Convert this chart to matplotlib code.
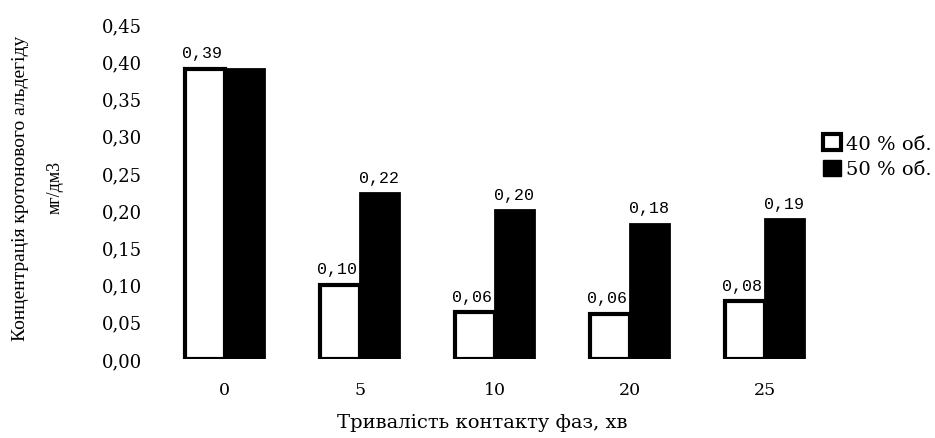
import matplotlib.pyplot as plt
import numpy as np
from matplotlib.patches import Patch

plt.rcParams["font.family"] = ["DejaVu Serif"]

categories = ["0", "5", "10", "20", "25"]
vol40 = [0.39, 0.10, 0.063, 0.061, 0.078]
vol50 = [0.39, 0.223, 0.200, 0.182, 0.188]
series_names = ["40 % об.", "50 % об."]
yticks = [0.00, 0.05, 0.10, 0.15, 0.20, 0.25, 0.30, 0.35, 0.40, 0.45]

fig = plt.figure(figsize=(9.35, 4.39), dpi=100)
ax = fig.add_axes([0.168, 0.18, 0.722, 0.763])

x = np.arange(len(categories))
w = 0.29
ax.bar(x - w / 2, vol40, w, color="white", edgecolor="black", linewidth=3)
ax.bar(x + w / 2, vol50, w, color="black", edgecolor="black", linewidth=2)

def fmt(v):
    return f"{v:.2f}".replace(".", ",")

for xi, v in zip(x, vol40):
    ax.annotate(fmt(v), (xi - w / 2, v), xytext=(-2, 6), textcoords="offset points",
                ha="center", va="bottom", fontsize=12, family="Liberation Mono")
for i, (xi, v) in enumerate(zip(x, vol50)):
    if i == 0:
        continue  # overlaps the white bar label in the original
    ax.annotate(fmt(v), (xi + w / 2, v), xytext=(0, 6), textcoords="offset points",
                ha="center", va="bottom", fontsize=12, family="Liberation Mono")

ax.set_xlim(-0.5, len(categories) - 0.5)
ax.set_ylim(0, 0.45)
ax.set_xticks(x)
ax.set_xticklabels(categories, fontsize=12.5)
ax.set_yticks(yticks)
ax.set_yticklabels([fmt(t) for t in yticks], fontsize=13)
ax.tick_params(length=0)
ax.tick_params(axis="y", pad=11)
ax.tick_params(axis="x", pad=16)
for s in ax.spines.values():
    s.set_visible(False)
ax.axhline(0, color="#bbbbbb", lw=0.8, ls=":", zorder=0)

fig.text(0.516, 0.036, "Тривалість контакту фаз, хв", ha="center", va="center", fontsize=14)
fig.text(0.022, 0.57, "Концентрація кротонового альдегіду", rotation=90,
         ha="center", va="center", fontsize=14, family="Liberation Serif")
fig.text(0.059, 0.572, "мг/дм3", rotation=90, ha="center", va="center", fontsize=13,
         family="Liberation Serif")

handles = [Patch(facecolor="white", edgecolor="black", linewidth=3),
           Patch(facecolor="black", edgecolor="black")]
fig.legend(handles, series_names, loc="upper left", bbox_to_anchor=(0.872, 0.71),
           frameon=False, fontsize=14, handlelength=0.9, handleheight=0.9,
           handletextpad=0.3, labelspacing=0.35, borderaxespad=0)

fig.savefig("out.png", dpi=100)
